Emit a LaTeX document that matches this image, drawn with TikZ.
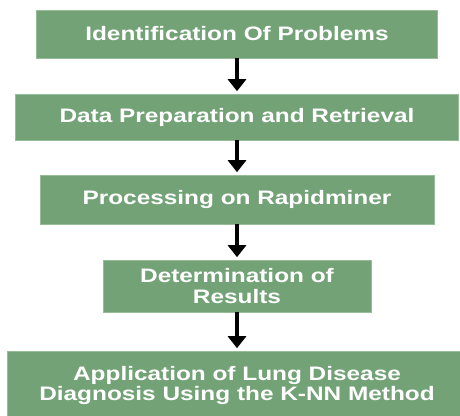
\documentclass[tikz,border=0pt]{standalone}
\usepackage{fontspec}
\setsansfont{Liberation Sans}[FakeStretch=1.25]
\usepackage{tikz}
\usetikzlibrary{arrows.meta}
\tikzset{>={Triangle[width=18pt,length=12pt]}}
\definecolor{boxgreen}{RGB}{114,162,118}
\definecolor{boxedge}{RGB}{150,188,153}

\begin{document}
\begin{tikzpicture}[x=1pt,y=-1pt,
  stepbox/.style={fill=boxgreen,draw=boxedge,line width=0.6pt,text=white,
    font=\sffamily\bfseries\fontsize{19.5}{20.5}\selectfont,align=center,
    inner sep=0pt},
  flow/.style={->,line width=3.2pt,shorten >=2.5pt}]
  % helper grid: comment for final drawing
  % \draw[help lines,step=20] (0,0) grid (460,415);

  \useasboundingbox (0,0) rectangle (460,415);
  \clip (0,0) rectangle (460,415);

  % boxes
  \node[stepbox,minimum width=401pt,minimum height=48pt] (ident)   at (237,34)    {Identification Of Problems};
  \node[stepbox,minimum width=443pt,minimum height=46pt] (prep)    at (237,117)   {Data Preparation and Retrieval};
  \node[stepbox,minimum width=394pt,minimum height=49pt] (process) at (237,199.5) {Processing on Rapidminer};
  \node[stepbox,minimum width=268pt,minimum height=52pt] (result)  at (237,286)   {Determination of\\Results};
  \node[stepbox,minimum width=460pt,minimum height=69pt] (apply)   at (237,385.5) {Application of Lung Disease\\Diagnosis Using the K-NN Method};

  % arrows
  \draw[flow] (ident)   -- (prep);
  \draw[flow] (prep)    -- (process);
  \draw[flow] (process) -- (result);
  \draw[flow] (result)  -- (apply);

\end{tikzpicture}
\end{document}
